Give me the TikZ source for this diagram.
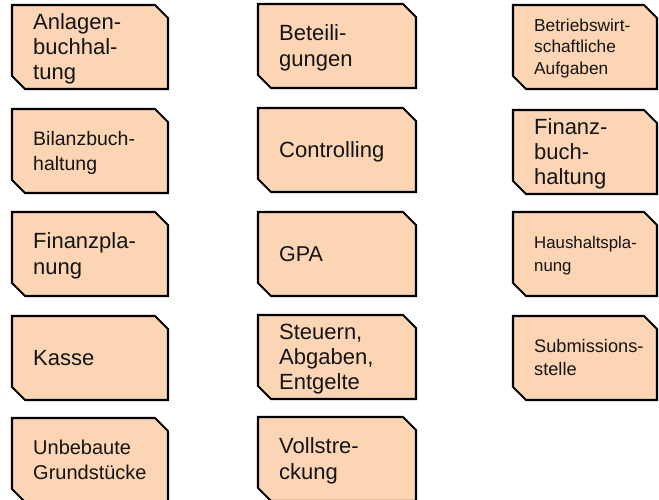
\documentclass[tikz,border=0pt]{standalone}
\usepackage{fontspec}
\setmainfont{Liberation Sans}
\definecolor{peach}{HTML}{FCD5B4}
\definecolor{txtcol}{HTML}{141414}
\tikzset{
  boxline/.style={draw=black, fill=peach, line width=2.1pt, line join=miter},
  txt/.style={inner sep=0pt, align=left, anchor=west, text=txtcol}
}
\newcommand{\stt}{\rule[-0.212em]{0pt}{1.117em}}
% name, left, top, width, fontsize, lineskip, text
\newcommand{\pbox}[7]{%
  \draw[boxline] ({#2},{#3}) -- ({#2+#4-13},{#3}) -- ({#2+#4},{#3+13}) -- ({#2+#4},{#3+84})
    -- ({#2+13},{#3+84}) -- ({#2},{#3+71}) -- cycle;
  \node[txt, font=\fontsize{#5}{#6}\selectfont] (#1) at ({#2+21},{#3+42}) {#7};
}
\begin{document}
\begin{tikzpicture}[x=1pt,y=-1pt]
\useasboundingbox (0,0) rectangle (659,499);
% column 1
\pbox{anl}{12}{5}{156}{22}{25.3}{\stt Anlagen-\\\stt buchhal-\\\stt tung}
\pbox{bil}{12}{109}{156}{19.5}{25}{\stt Bilanzbuch-\\\stt haltung}
\pbox{fpl}{12}{212}{156}{22}{25.3}{\stt Finanzpla-\\\stt nung}
\pbox{kas}{12}{316}{156}{22}{25.3}{\stt Kasse}
\pbox{unb}{12}{418}{156}{20}{25}{\stt Unbebaute\\\stt Grundstücke}
% column 2
\pbox{bet}{258}{4}{158}{22}{25.3}{\stt Beteili-\\\stt gungen}
\pbox{con}{258}{108}{158}{22}{25.3}{\stt Controlling}
\pbox{gpa}{258}{212}{158}{21.5}{25}{\stt GPA}
\pbox{ste}{258}{315}{158}{22}{25.3}{\stt Steuern,\\\stt Abgaben,\\\stt Entgelte}
\pbox{vol}{258}{417}{158}{22}{25.3}{\stt Vollstre-\\\stt ckung}
% column 3
\pbox{bwa}{513}{5}{144}{17.3}{21.7}{\stt Betriebswirt-\\\stt schaftliche\\\stt Aufgaben}
\pbox{fbh}{513}{110}{144}{22}{25.3}{\stt Finanz-\\\stt buch-\\\stt haltung}
\pbox{hhp}{513}{212}{144}{16.8}{23}{\stt Haushaltspla-\\\stt nung}
\pbox{sub}{513}{316}{144}{18.2}{23.3}{\stt Submissions-\\\stt stelle}
\end{tikzpicture}
\end{document}
